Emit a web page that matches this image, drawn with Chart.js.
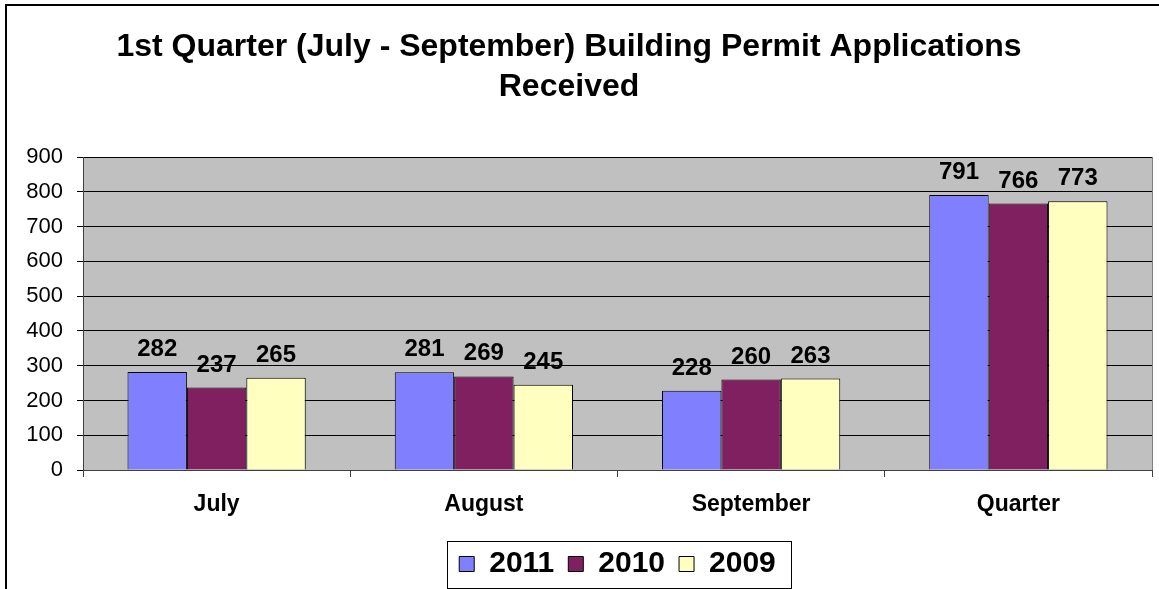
<!DOCTYPE html>
<html>
<head>
<meta charset="utf-8">
<script src="https://cdn.jsdelivr.net/npm/chart.js@4.4.0/dist/chart.umd.min.js"></script>
<style>
  html, body { margin: 0; padding: 0; background: #fff; }
  #wrap { position: relative; width: 1159px; height: 589px; }
</style>
</head>
<body>
<div id="wrap"><canvas id="myChart" width="1159" height="589"></canvas></div>
<script>
const FONT = '"Liberation Sans", Arial, sans-serif';

// chart data
const months = ['July', 'August', 'September', 'Quarter'];
const years = ['2011', '2010', '2009'];
const v2011 = [282, 281, 228, 791];
const v2010 = [237, 269, 260, 766];
const v2009 = [265, 245, 263, 773];
const yMin = 0, yMax = 900, yStep = 100;

const colors = ['#8080FF', '#802060', '#FFFFC0'];

// gray plot background + outer frame + legend border
const decorPlugin = {
  id: 'decor',
  afterLayout(chart) {
    // excel title sits a little left of centre
    chart.titleBlock.left -= 7;
    chart.titleBlock.right -= 7;
  },
  beforeDraw(chart) {
    const { ctx, chartArea: a } = chart;
    ctx.save();
    ctx.fillStyle = '#C0C0C0';
    ctx.fillRect(a.left, a.top, a.right - a.left, a.bottom - a.top);
    ctx.restore();
  },
  afterDraw(chart) {
    const { ctx, chartArea: a } = chart;
    ctx.save();
    // right edge of plot area
    ctx.strokeStyle = '#808080';
    ctx.lineWidth = 1;
    ctx.beginPath();
    ctx.moveTo(a.right + 0.5, a.top);
    ctx.lineTo(a.right + 0.5, a.bottom);
    ctx.stroke();

    // outer chart frame (top + left only, rest is cropped)
    ctx.fillStyle = '#000';
    ctx.fillRect(5, 4, 1154, 2);
    ctx.fillRect(5, 4, 2, 585);

    // box around legend
    const hb = chart.legend.legendHitBoxes;
    if (hb && hb.length) {
      const first = hb[0], last = hb[hb.length - 1];
      const x = first.left - 12;
      const w = last.left + last.width + 15 - x;
      const cy = first.top + first.height / 2;
      ctx.strokeStyle = '#000';
      ctx.lineWidth = 1;
      ctx.strokeRect(Math.round(x) + 0.5, Math.round(cy - 23.5) + 0.5, Math.round(w), 47);
    }
    ctx.restore();
  },
  afterDatasetsDraw(chart) {
    const ctx = chart.ctx;
    ctx.save();
    ctx.font = 'bold 24px ' + FONT;
    ctx.fillStyle = '#000';
    ctx.textAlign = 'center';
    ctx.textBaseline = 'alphabetic';
    chart.data.datasets.forEach((ds, i) => {
      chart.getDatasetMeta(i).data.forEach((bar, j) => {
        ctx.fillText(ds.data[j], bar.x, bar.y - 16);
      });
    });
    ctx.restore();
  }
};

const ctx = document.getElementById('myChart').getContext('2d');
new Chart(ctx, {
  type: 'bar',
  data: {
    labels: months,
    datasets: [
      { label: years[0], data: v2011, backgroundColor: colors[0] },
      { label: years[1], data: v2010, backgroundColor: colors[1] },
      { label: years[2], data: v2009, backgroundColor: colors[2] }
    ].map(d => Object.assign(d, { borderColor: '#000', borderWidth: 1 }))
  },
  options: {
    responsive: false,
    animation: false,
    layout: { padding: { left: 0, right: 7, top: 0, bottom: 0 } },
    datasets: {
      bar: { categoryPercentage: 0.667, barPercentage: 1.0 }
    },
    plugins: {
      title: {
        display: true,
        text: ['1st Quarter (July - September) Building Permit Applications', 'Received'],
        color: '#000',
        font: { family: FONT, size: 32, weight: 'bold', lineHeight: 1.25 },
        padding: { top: 27, bottom: 50 }
      },
      legend: {
        position: 'bottom',
        fullSize: false,
        labels: {
          color: '#000',
          font: { family: FONT, size: 30, weight: 'bold' },
          boxWidth: 15,
          boxHeight: 15,
          padding: 14
        }
      },
      tooltip: { enabled: false }
    },
    scales: {
      x: {
        grid: {
          display: true,
          drawOnChartArea: false,
          drawTicks: true,
          tickLength: 7,
          color: '#404040',
          offset: true
        },
        border: { color: '#404040', width: 1 },
        ticks: {
          color: '#000',
          font: { family: FONT, size: 23, weight: 'bold' },
          padding: 14,
          maxRotation: 0
        },
        afterFit(scale) { scale.height = 65; }
      },
      y: {
        min: yMin,
        max: yMax,
        grid: { color: '#000', tickLength: 6, drawTicks: true },
        border: { color: '#404040', width: 1 },
        ticks: {
          stepSize: yStep,
          color: '#000',
          font: { family: FONT, size: 22 },
          padding: 14
        },
        afterFit(scale) { scale.width = 83; }
      }
    }
  },
  plugins: [decorPlugin]
});
</script>
</body>
</html>
